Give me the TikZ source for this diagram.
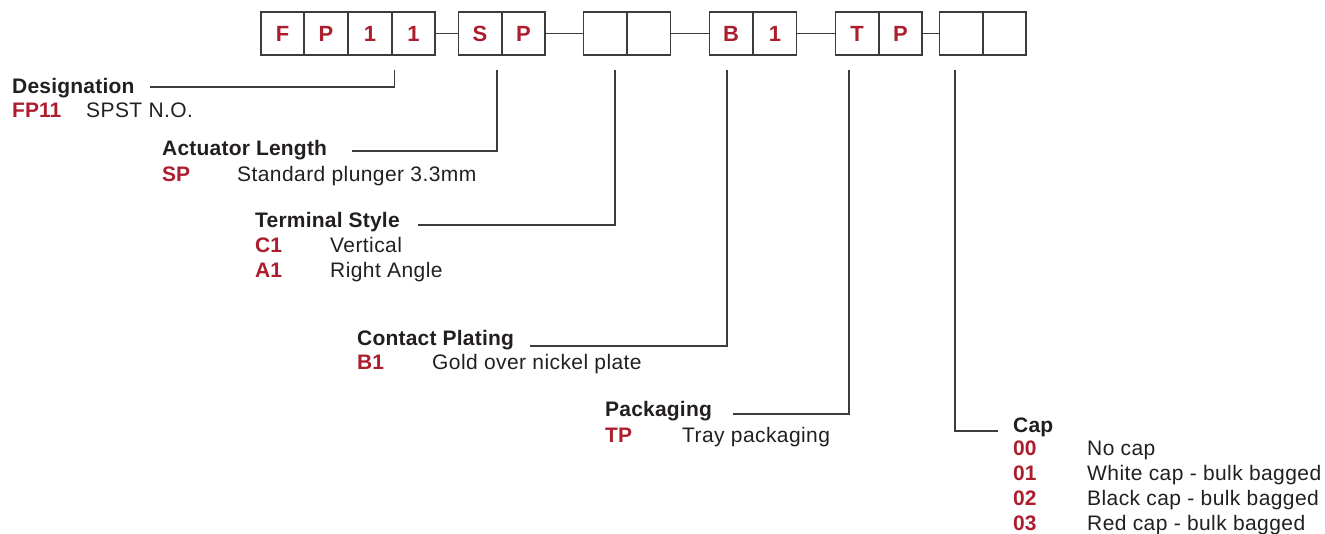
\documentclass[tikz,border=0pt]{standalone}
\usepackage{fontspec}
\setmainfont{Liberation Sans}
\newfontfamily\descfont[LetterSpace=2.0]{Liberation Sans}
\newfontfamily\titlefont[LetterSpace=1.0]{Liberation Sans}
\definecolor{codered}{RGB}{172,30,45}
\definecolor{ink}{RGB}{35,31,32}
\definecolor{linegray}{RGB}{60,60,60}
\begin{document}
\begin{tikzpicture}[x=1pt,y=-1pt,
  cell/.style={draw=linegray,line width=1.6pt,minimum width=43pt,minimum height=42.5pt,inner sep=0pt,
    font=\fontsize{22}{24}\selectfont\bfseries,text=codered},
  joint/.style={draw=linegray,line width=1.5pt},
  leader/.style={draw=linegray,line width=1.1pt},
  title/.style={anchor=base west,inner sep=0pt,font=\titlefont\fontsize{21}{24}\selectfont\bfseries,text=ink},
  code/.style={anchor=base west,inner sep=0pt,font=\fontsize{21}{24}\selectfont\bfseries,text=codered},
  desc/.style={anchor=base west,inner sep=0pt,font=\descfont\fontsize{21}{24}\selectfont,text=ink}]
\useasboundingbox (0,0) rectangle (1325,534);
% boxes
\node[cell] (b1) at (282.5,33.5) {F};
\node[cell] (b2) at (326,33.5) {P};
\node[cell] (b3) at (370,33.5) {1};
\node[cell] (b4) at (413.5,33.5) {1};
\node[cell] (b5) at (480,33.5) {S};
\node[cell] (b6) at (523.5,33.5) {P};
\node[cell] (b7) at (605,33.5) {};
\node[cell] (b8) at (649,33.5) {};
\node[cell] (b9) at (731,33.5) {B};
\node[cell] (b10) at (775,33.5) {1};
\node[cell] (b11) at (857,33.5) {T};
\node[cell] (b12) at (900.5,33.5) {P};
\node[cell] (b13) at (961,33.5) {};
\node[cell] (b14) at (1004.5,33.5) {};
\draw[joint] (b4.east) -- (b5.west);
\draw[joint] (b6.east) -- (b7.west);
\draw[joint] (b8.east) -- (b9.west);
\draw[joint] (b10.east) -- (b11.west);
\draw[joint] (b12.east) -- (b13.west);
% leader tops
\coordinate (t1) at (394.5,70);
\coordinate (t2) at (497,70);
\coordinate (t3) at (615,70);
\coordinate (t4) at (727,70);
\coordinate (t5) at (849,70);
\coordinate (t6) at (955,70);
% Designation
\node[title] (h1) at (12,94) {Designation};
\node[code] (c11) at (12,118) {FP11};
\node[desc] (d11) at (86,118) {SPST N.O.};
\coordinate (e1) at (150,87);
\draw[leader] (e1) -| (t1);
% Actuator Length
\node[title] (h2) at (162,156) {Actuator Length};
\node[code] (c21) at (162,182) {SP};
\node[desc] (d21) at (237,182) {Standard plunger 3.3mm};
\coordinate (e2) at (352,151);
\draw[leader] (e2) -| (t2);
% Terminal Style
\node[title] (h3) at (255,228) {Terminal Style};
\node[code] (c31) at (255,253) {C1};
\node[desc] (d31) at (330,253) {Vertical};
\node[code] (c32) at (255,278) {A1};
\node[desc] (d32) at (330,278) {Right Angle};
\coordinate (e3) at (418,225);
\draw[leader] (e3) -| (t3);
% Contact Plating
\node[title] (h4) at (357,346) {Contact Plating};
\node[code] (c41) at (357,370) {B1};
\node[desc] (d41) at (432,370) {Gold over nickel plate};
\coordinate (e4) at (530,346);
\draw[leader] (e4) -| (t4);
% Packaging
\node[title] (h5) at (605,417) {Packaging};
\node[code] (c51) at (605,442) {TP};
\node[desc] (d51) at (682,442) {Tray packaging};
\coordinate (e5) at (733,414);
\draw[leader] (e5) -| (t5);
% Cap
\node[title] (h6) at (1013,432) {Cap};
\node[code] (c61) at (1013,455) {00};
\node[desc] (d61) at (1087,455) {No cap};
\node[code] (c62) at (1013,480) {01};
\node[desc] (d62) at (1087,480) {White cap - bulk bagged};
\node[code] (c63) at (1013,505) {02};
\node[desc] (d63) at (1087,505) {Black cap - bulk bagged};
\node[code] (c64) at (1013,530) {03};
\node[desc] (d64) at (1087,530) {Red cap - bulk bagged};
\coordinate (e6) at (998,431);
\draw[leader] (e6) -| (t6);
\end{tikzpicture}
\end{document}
